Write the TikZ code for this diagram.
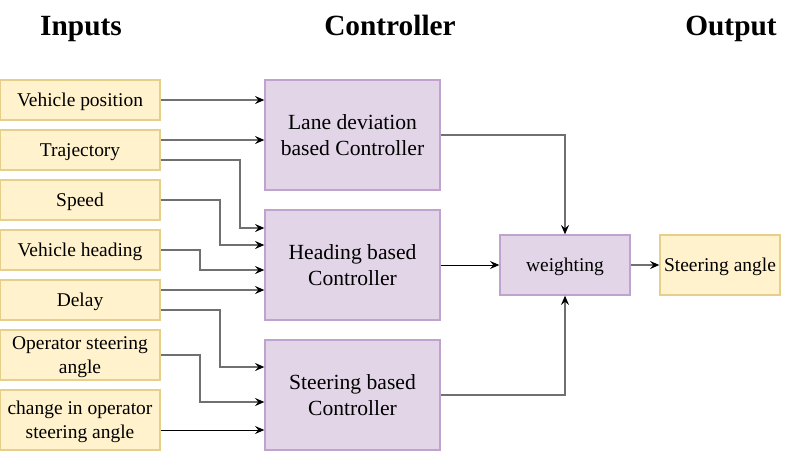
\documentclass[tikz,border=0pt]{standalone}
\usepackage{fontspec}
\setmainfont{Liberation Serif}
\usetikzlibrary{arrows.meta}
\definecolor{infill}{HTML}{FFF2CC}
\definecolor{inline}{HTML}{E6CF88}
\definecolor{ctrlfill}{HTML}{E1D5E7}
\definecolor{ctrlline}{HTML}{BFA3CE}
\definecolor{wiregray}{HTML}{707070}
\tikzset{
    inbox/.style = {
        draw=inline,
        fill=infill,
        line width=1pt,
        minimum width=120pt,
        minimum height=30pt,
        inner sep=1pt,
        text depth=0pt,
        align=center,
        font=\fontsize{14.6}{18}\selectfont
    },
    ctrlbox/.style = {
        draw=ctrlline,
        fill=ctrlfill,
        line width=1pt,
        minimum width=131.25pt,
        minimum height=82.5pt,
        text depth=0pt,
        align=center,
        font=\fontsize{16.2}{19.5}\selectfont
    },
    wire/.style = {
        wiregray,
        line width=1.1pt,
        -{Stealth[length=7pt,width=6pt,inset=2.5pt,black]}
    },
    thinwire/.style = {
        wire,
        black,
        line width=0.75pt
    },
    heading/.style = {
        anchor=base,
        font=\fontsize{22}{26}\selectfont\bfseries
    }
}

\begin{document}
\begin{tikzpicture}[x=0.75pt,y=-0.75pt]
    \useasboundingbox (0,0) rectangle (791,451);

    % Draw headings
    \node[heading] (hin) at (81,35) {Inputs};
    \node[heading] (hctrl) at (390,35) {Controller};
    \node[heading] (hout) at (731,35) {Output};

    % Draw inputs
    \node[inbox] (vpos) at (80,100) {Vehicle position};
    \node[inbox] (traj) at (80,150) {Trajectory};
    \node[inbox] (speed) at (80,200) {Speed};
    \node[inbox] (vhead) at (80,250) {Vehicle heading};
    \node[inbox] (delay) at (80,300) {Delay};
    \node[inbox, minimum height=37.5pt] (opsteer) at (80,355) {Operator steering\\angle};
    \node[inbox, minimum height=45pt] (dsteer) at (80,420) {change in operator\\steering angle};

    % Draw controllers
    \node[ctrlbox] (lane) at (352.5,135) {Lane deviation\\based Controller};
    \node[ctrlbox] (headctl) at (352.5,265) {Heading based\\Controller};
    \node[ctrlbox] (steerctl) at (352.5,395) {Steering based\\Controller};
    \node[ctrlbox, minimum width=97.5pt, minimum height=45pt,
          font=\fontsize{14.6}{18}\selectfont] (weight) at (565,265) {weighting};
    \node[inbox, minimum width=90pt, minimum height=45pt] (out) at (720,265) {Steering angle};

    % Draw connections
    \draw[wire] (vpos.east) -- (vpos -| lane.west);
    \draw[wire] (traj.east |- 0,140) -- (lane.west |- 0,140);
    \draw[wire] (traj.east |- 0,160) -| (240,228) -- (headctl.west |- 0,228);
    \draw[wire] (speed.east) -| (220,245) -- (headctl.west |- 0,245);
    \draw[wire] (vhead.east) -| (200,270) -- (headctl.west |- 0,270);
    \draw[wire] (delay.east |- 0,290) -- (headctl.west |- 0,290);
    \draw[wire] (delay.east |- 0,310) -| (220,367) -- (steerctl.west |- 0,367);
    \draw[wire] (opsteer.east) -| (200,402) -- (steerctl.west |- 0,402);
    \draw[thinwire] (dsteer.east |- 0,430) -- (steerctl.west |- 0,430);

    \draw[wire] (lane.east) -| (weight.north);
    \draw[thinwire] (headctl.east) -- (weight.west);
    \draw[wire] (steerctl.east) -| (weight.south);
    \draw[wire] (weight.east) -- (out.west);
\end{tikzpicture}
\end{document}
